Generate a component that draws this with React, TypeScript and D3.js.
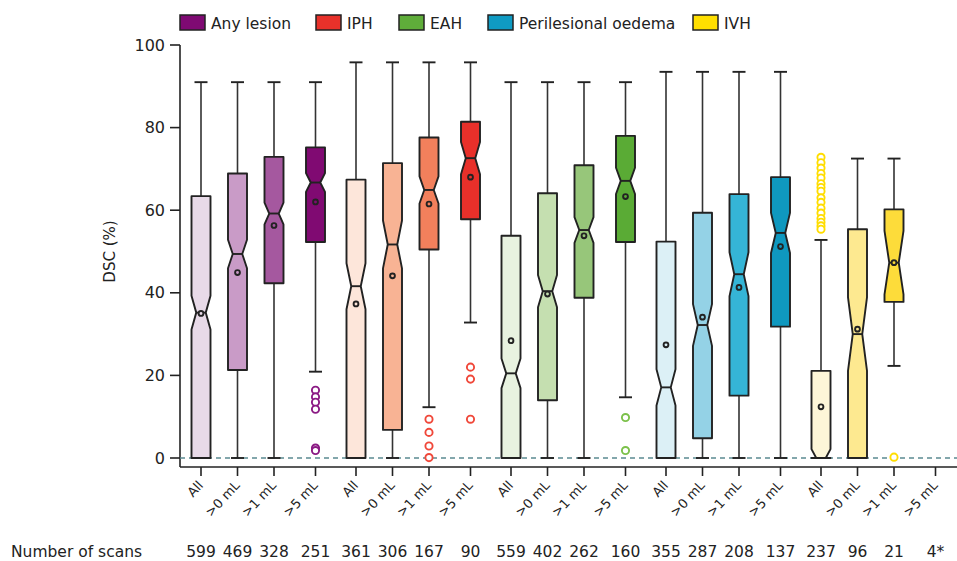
import React from "react";
import * as d3 from "d3";

const groups = ["Any lesion", "IPH", "EAH", "Perilesional oedema", "IVH"];
const subgroups = ["All", ">0 mL", ">1 mL", ">5 mL"];

const legendColors = ["#7f0a73", "#e8312a", "#5fad3a", "#0f9bc3", "#ffdf00"];
const shades = [
  ["#e8dae8", "#c99bc7", "#a5589f", "#800a72"],
  ["#fde6da", "#f8b394", "#f2805c", "#e8302a"],
  ["#e8f2e0", "#c5dfb0", "#97c67a", "#5aab35"],
  ["#dcf0f6", "#94d2e6", "#35b5d6", "#0f98bf"],
  ["#fdf6d8", "#fde990", "#fddc3a", "#ffe100"],
];
const outlierColors = ["#8b1a84", "#f0483a", "#7cc14b", "#35b5d6", "#ffdd00"];

// per box, ordered group by group (All, >0, >1, >5)
const counts = ["599", "469", "328", "251", "361", "306", "167", "90", "559", "402", "262", "160", "355", "287", "208", "137", "237", "96", "21", "4*"];
const nScans = [599, 469, 328, 251, 361, 306, 167, 90, 559, 402, 262, 160, 355, 287, 208, 137, 237, 96, 21, 4];
const whiskerLow = [0, 0, 0, 20.9, 0, 0, 12.3, 32.8, 0, 0, 0, 14.7, 0, 0, 0, 0, 0, 0, 22.3, null];
const q1 = [0, 21.3, 42.3, 52.3, 0, 6.8, 50.5, 57.8, 0, 14.0, 38.8, 52.3, 0, 4.8, 15.1, 31.8, 0, 0, 37.8, null];
const median = [35.2, 49.4, 59.2, 66.7, 41.6, 51.7, 64.9, 72.6, 20.5, 40.4, 55.2, 67.1, 17.1, 32.2, 44.5, 54.5, 0, 30.0, 47.3, null];
const q3 = [63.4, 68.9, 72.9, 75.2, 67.4, 71.4, 77.6, 81.4, 53.8, 64.1, 70.9, 78.0, 52.4, 59.4, 63.9, 68.0, 21.1, 55.4, 60.2, null];
const whiskerHigh = [91, 91, 91, 91, 95.8, 95.8, 95.8, 95.8, 91, 91, 91, 91, 93.5, 93.5, 93.5, 93.5, 52.8, 72.5, 72.5, null];
const means = [35.0, 44.9, 56.3, 62.0, 37.3, 44.1, 61.5, 68.0, 28.4, 39.7, 53.8, 63.3, 27.4, 34.1, 41.3, 51.2, 12.4, 31.2, 47.3, null];
const outliers: number[][] = [
  [], [], [], [16.4, 14.8, 13.5, 11.8, 2.4, 1.8],
  [], [], [9.4, 6.2, 2.9, 0.1], [22.0, 19.1, 9.4],
  [], [], [], [9.8, 1.8],
  [], [], [], [],
  [72.8, 71.5, 70.2, 68.9, 67.8, 66.4, 65.5, 64.6, 63.0, 61.9, 60.5, 59.3, 58.0, 57.1, 56.2, 55.4], [], [0.2], [],
];

const yTicks = [0, 20, 40, 60, 80, 100];
const legendX = [180, 316, 399, 488, 693];

const FONT = "'DejaVu Sans', sans-serif";
const W = 957;
const H = 561;
const BOX_W = 19;
const CAP_W = 13;

export default function App() {
  const y = d3.scaleLinear().domain([0, 100]).range([458, 45]);
  const xGroup = d3.scaleLinear().domain([0, 4]).range([201, 821]);
  const xSub = d3.scaleOrdinal<string, number>().domain(subgroups).range([0, 36.5, 73, 114.5]);

  const boxes = groups.flatMap((g, gi) =>
    subgroups.map((s, si) => {
      const i = gi * 4 + si;
      return { gi, si, i, x: xGroup(gi) + xSub(s), label: s };
    })
  );

  const axisX = 180;
  const axisY = 467;

  const boxPath = (i: number, cx: number) => {
    const lo = q1[i] as number;
    const hi = q3[i] as number;
    const med = median[i] as number;
    const notch = (1.57 * (hi - lo)) / Math.sqrt(nScans[i]);
    const nLo = Math.max(med - notch, lo);
    const nHi = Math.min(med + notch, hi);
    const L = cx - BOX_W / 2;
    const R = cx + BOX_W / 2;
    const Li = cx - BOX_W / 4;
    const Ri = cx + BOX_W / 4;
    const pts: [number, number][] = [
      [L, y(lo)],
      [L, y(nLo)],
      [Li, y(med)],
      [L, y(nHi)],
      [L, y(hi)],
      [R, y(hi)],
      [R, y(nHi)],
      [Ri, y(med)],
      [R, y(nLo)],
      [R, y(lo)],
    ];
    return d3.line()(pts) + "Z";
  };

  return (
    <svg width={W} height={H} style={{ display: "block", position: "absolute", left: 0, top: 0, background: "#fff" }} fontFamily={FONT}>
      {/* legend */}
      {groups.map((g, gi) => (
        <g key={g}>
          <rect x={legendX[gi]} y={15} width={25} height={15} fill={legendColors[gi]} stroke="#222" strokeWidth={1.5} />
          <text x={legendX[gi] + 31} y={28.5} fontSize={15.5} fill="#222">{g}</text>
        </g>
      ))}

      {/* y axis */}
      <line x1={axisX} x2={axisX} y1={y(100)} y2={axisY} stroke="#222" strokeWidth={1.6} />
      {yTicks.map((t) => (
        <g key={t}>
          <line x1={axisX - 10} x2={axisX} y1={y(t)} y2={y(t)} stroke="#222" strokeWidth={1.6} />
          <text x={axisX - 15} y={y(t)} dy="0.35em" textAnchor="end" fontSize={16} fill="#222">{t}</text>
        </g>
      ))}
      <text transform={`translate(115,${(y(0) + y(100)) / 2}) rotate(-90)`} textAnchor="middle" fontSize={15} fill="#222">DSC (%)</text>

      {/* x axis */}
      <line x1={axisX} x2={W} y1={axisY} y2={axisY} stroke="#222" strokeWidth={1.6} />
      <line x1={axisX} x2={W} y1={y(0)} y2={y(0)} stroke="#5b8b91" strokeWidth={1.3} strokeDasharray="5,4" />
      {boxes.map((b) => (
        <g key={"t" + b.i}>
          <line x1={b.x} x2={b.x} y1={axisY} y2={axisY + 9} stroke="#222" strokeWidth={1.6} />
          <text transform={`translate(${b.x + 3},${axisY + 19}) rotate(-47)`} textAnchor="end" fontSize={13} fill="#222">{b.label}</text>
          <text x={b.x} y={556.5} textAnchor="middle" fontSize={15.5} fill="#222">{counts[b.i]}</text>
        </g>
      ))}
      <text x={11} y={556.5} fontSize={15.5} fill="#222">Number of scans</text>

      {/* boxes */}
      {boxes.map((b) => {
        const i = b.i;
        if (q1[i] === null) return null;
        const fill = shades[b.gi][b.si];
        return (
          <g key={"b" + i}>
            <line x1={b.x} x2={b.x} y1={y(q3[i] as number)} y2={y(whiskerHigh[i] as number)} stroke="#333" strokeWidth={1.6} />
            <line x1={b.x} x2={b.x} y1={y(q1[i] as number)} y2={y(whiskerLow[i] as number)} stroke="#333" strokeWidth={1.6} />
            <line x1={b.x - CAP_W / 2} x2={b.x + CAP_W / 2} y1={y(whiskerHigh[i] as number)} y2={y(whiskerHigh[i] as number)} stroke="#222" strokeWidth={1.9} />
            <line x1={b.x - CAP_W / 2} x2={b.x + CAP_W / 2} y1={y(whiskerLow[i] as number)} y2={y(whiskerLow[i] as number)} stroke="#222" strokeWidth={1.9} />
            <path d={boxPath(i, b.x)} fill={fill} stroke="#222" strokeWidth={1.9} strokeLinejoin="round" />
            <line x1={b.x - BOX_W / 4} x2={b.x + BOX_W / 4} y1={y(median[i] as number)} y2={y(median[i] as number)} stroke="#222" strokeWidth={1.9} />
            <circle cx={b.x} cy={y(means[i] as number)} r={2.4} fill={fill} stroke="#222" strokeWidth={1.9} />
            {outliers[i].map((v, k) => (
              <circle key={k} cx={b.x} cy={y(v)} r={3.6} fill="#fff" stroke={outlierColors[b.gi]} strokeWidth={1.9} />
            ))}
          </g>
        );
      })}
    </svg>
  );
}
